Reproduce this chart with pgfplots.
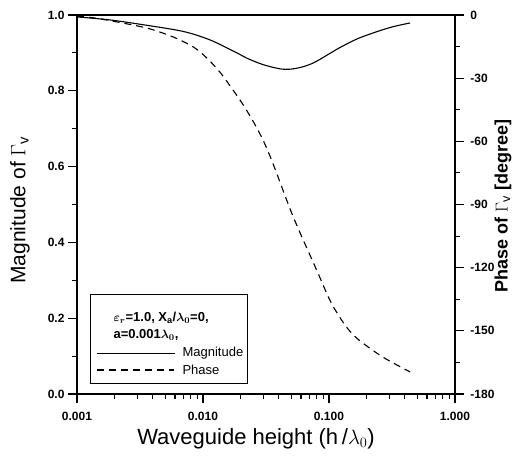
\documentclass[border=0pt]{standalone}
\usepackage{pgfplots}
\pgfplotsset{compat=1.18}
\usepackage{fontspec}
\setmainfont{Liberation Sans}
\begin{document}
\begin{tikzpicture}
\useasboundingbox (-77pt,-65pt) rectangle (441pt,394pt);
\pgfplotsset{every axis/.append style={
  scale only axis, width=378pt, height=379pt,
  at={(0pt,0pt)}, anchor=south west,
  axis line style={line width=1.3pt},
  every tick/.style={black, line width=1.1pt},
  tick align=outside, major tick length=9pt, minor tick length=5pt,
  tick label style={font=\fontsize{12}{14}\selectfont\bfseries},
  xmode=log, xmin=0.001, xmax=1,
}}
\begin{axis}[
  ymin=0, ymax=1, tick pos=left,
  xtick={0.001,0.01,0.1,1}, xticklabels={0.001,0.010,0.100,1.000},
  ytick={0,0.2,0.4,0.6,0.8,1}, yticklabels={0.0,0.2,0.4,0.6,0.8,1.0},
  minor ytick={0.1,0.3,0.5,0.7,0.9},
  xticklabel style={yshift=-6pt},
]
\addplot[black, line width=1.1pt, smooth] coordinates {
  (0.001,0.995) (0.00183,0.987) (0.0034,0.974) (0.00622,0.960)
  (0.00849,0.949) (0.0120,0.931) (0.0186,0.900) (0.0223,0.886)
  (0.030,0.869) (0.0408,0.858) (0.049,0.857) (0.060,0.862)
  (0.0746,0.873) (0.093,0.891) (0.122,0.914) (0.170,0.938)
  (0.25,0.958) (0.33,0.970) (0.44,0.979)};
\end{axis}
\begin{axis}[
  ymin=-180, ymax=0, axis x line=none, axis y line*=right,
  ytick={-180,-150,-120,-90,-60,-30,0},
  yticklabels={-180,-150,-120,-90,-60,-30,0},
  minor ytick={-165,-135,-105,-75,-45,-15},
  yticklabel style={xshift=3pt},
]
\addplot[black, line width=1.1pt, smooth, dash pattern=on 7pt off 5pt] coordinates {
  (0.001,-0.5) (0.00144,-1.6) (0.00249,-4.2) (0.0038,-6.6)
  (0.00589,-10.6) (0.00849,-15.4) (0.0108,-20.6) (0.0137,-27.3)
  (0.0170,-35) (0.0205,-42) (0.0250,-50.5) (0.0300,-59.5)
  (0.0359,-70.5) (0.049,-92) (0.060,-104.5) (0.0803,-121.5)
  (0.1037,-136.5) (0.135,-147.5) (0.170,-154) (0.268,-162.5)
  (0.44,-169.5)};
\end{axis}
% axis titles
\node[rotate=90, font=\fontsize{21}{24}\selectfont] at (-57pt,184pt) {Magnitude of $\Gamma_{\mathrm{v}}$};
\node[rotate=90, font=\fontsize{18}{22}\selectfont\bfseries] at (426pt,188pt) {Phase of $\Gamma_{\mathrm{v}}$ [degree]};
\node[font=\fontsize{22}{25}\selectfont] at (179pt,-45pt) {Waveguide height (h\,/$\lambda_0$)};
% legend
\draw[fill=white, line width=0.9pt] (13pt,11pt) rectangle (170pt,100pt);
\node[anchor=west, font=\fontsize{13}{15}\selectfont\bfseries\boldmath] at (33pt,76pt) {$\varepsilon_r$=1.0, X$_{\mathrm{a}}$/$\lambda_0$=0,};
\node[anchor=west, font=\fontsize{13}{15}\selectfont\bfseries\boldmath] at (33pt,59pt) {a=0.001$\lambda_0$,};
\draw[line width=0.7pt] (20pt,41pt) -- (98pt,41pt);
\node[anchor=west, font=\fontsize{13}{15}\selectfont] at (102pt,41pt) {Magnitude};
\draw[line width=1.1pt, dash pattern=on 7pt off 5pt] (20pt,24pt) -- (97pt,24pt);
\node[anchor=west, font=\fontsize{13}{15}\selectfont] at (102pt,24pt) {Phase};
\end{tikzpicture}
\end{document}
